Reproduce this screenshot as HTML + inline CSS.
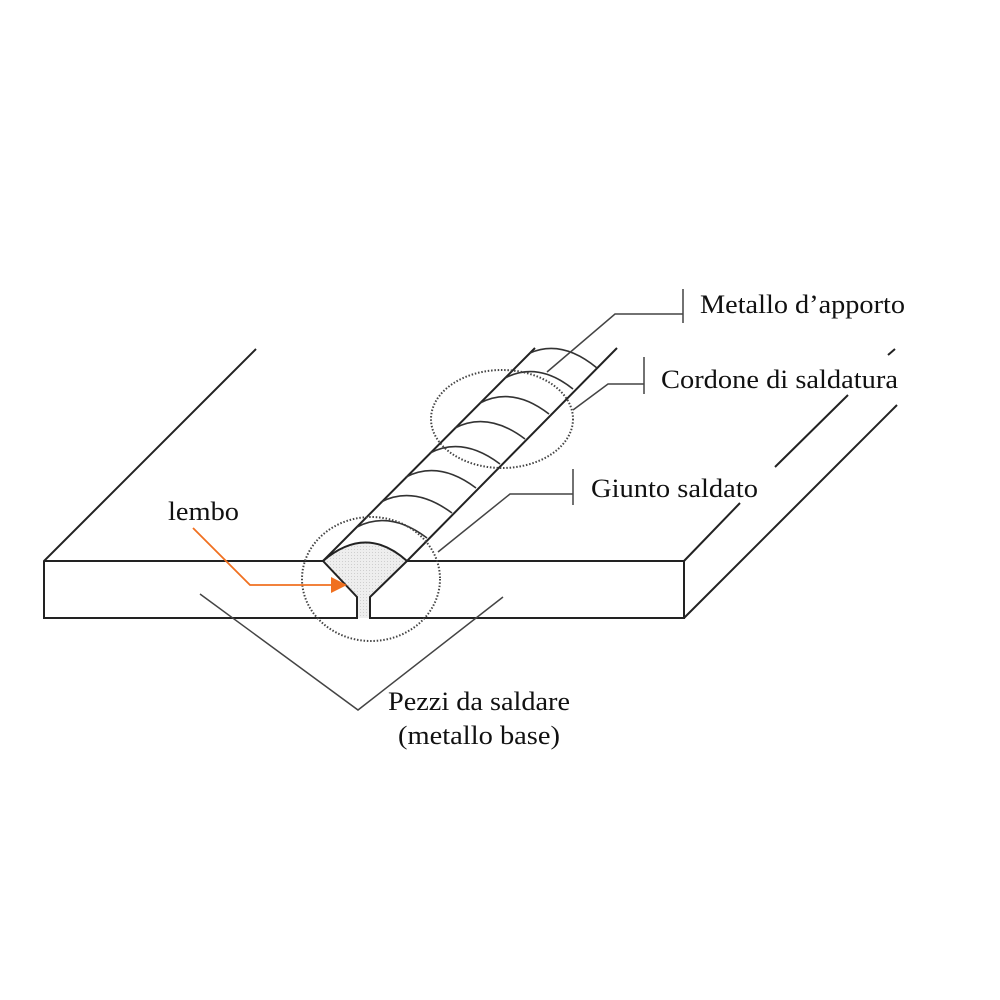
<!DOCTYPE html>
<html><head><meta charset="utf-8"><style>html,body{margin:0;padding:0;background:#fff}svg{display:block}</style></head>
<body>
<svg width="1000" height="1000" viewBox="0 0 1000 1000" xmlns="http://www.w3.org/2000/svg">
<defs>
<pattern id="dots" width="3" height="3" patternUnits="userSpaceOnUse"><rect width="3" height="3" fill="#eeeeee"/><rect width="1" height="1" fill="#cfcfcf"/></pattern>
</defs>
<g fill="none" stroke="#222" stroke-width="2">
<path d="M323,561 Q366,524 407,561 L370,597 L370,618 L357,618 L357,597 Z" fill="url(#dots)" stroke="none"/>
<path d="M256,349 L44,561 L44,618 L357,618 L357,597 L323,561 L44,561"/>
<path d="M407,561 L684,561 L684,618 L370,618 L370,597 L407,561"/>
<path d="M323,561 Q366,524 407,561"/>
<path d="M323,561 L535,348"/>
<path d="M407,561 L617,348"/>
<path d="M684,561 L740,503 M775,467 L848,395 M888,355 L895,349"/>
<path d="M684,618 L897,405"/>
</g>
<g fill="none" stroke="#333" stroke-width="1.6">
<path d="M357,527 Q390,510 427,538"/>
<path d="M381,502 Q414,485 452,513"/>
<path d="M406,477 Q439,460 476,488"/>
<path d="M430,453 Q463,436 500,464"/>
<path d="M455,428 Q488,411 525,439"/>
<path d="M480,403 Q513,386 549,414"/>
<path d="M505,378 Q538,361 573,389"/>
<path d="M530,353 Q562,339 597,368"/>
</g>
<g fill="none" stroke="#444" stroke-width="2" stroke-dasharray="1.5,1.8">
<ellipse cx="371" cy="579" rx="69" ry="62"/>
<ellipse cx="502" cy="419" rx="71" ry="49"/>
</g>
<g fill="none" stroke="#444" stroke-width="1.5">
<path d="M547,372 L615,314 L683,314 M683,289 L683,323"/>
<path d="M573,410 L608,384 L644,384 M644,357 L644,394"/>
<path d="M438,552 L510,494 L573,494 M573,469 L573,505"/>
<path d="M200,594 L358,710 L503,597"/>
</g>
<path d="M193,528 L250,585 L333,585" fill="none" stroke="#f07020" stroke-width="1.8"/>
<path d="M347,585 L331,577 L331,593 Z" fill="#f07020"/>
<g font-family="'Liberation Serif', serif" font-size="26" fill="#111">
<text x="700" y="313" textLength="205" lengthAdjust="spacingAndGlyphs">Metallo d’apporto</text>
<text x="661" y="388" textLength="237" lengthAdjust="spacingAndGlyphs">Cordone di saldatura</text>
<text x="591" y="497" textLength="167" lengthAdjust="spacingAndGlyphs">Giunto saldato</text>
<text x="168" y="520" textLength="71" lengthAdjust="spacingAndGlyphs">lembo</text>
<text x="388" y="710" textLength="182" lengthAdjust="spacingAndGlyphs">Pezzi da saldare</text>
<text x="398" y="744" textLength="162" lengthAdjust="spacingAndGlyphs">(metallo base)</text>
</g>
</svg>
</body></html>
